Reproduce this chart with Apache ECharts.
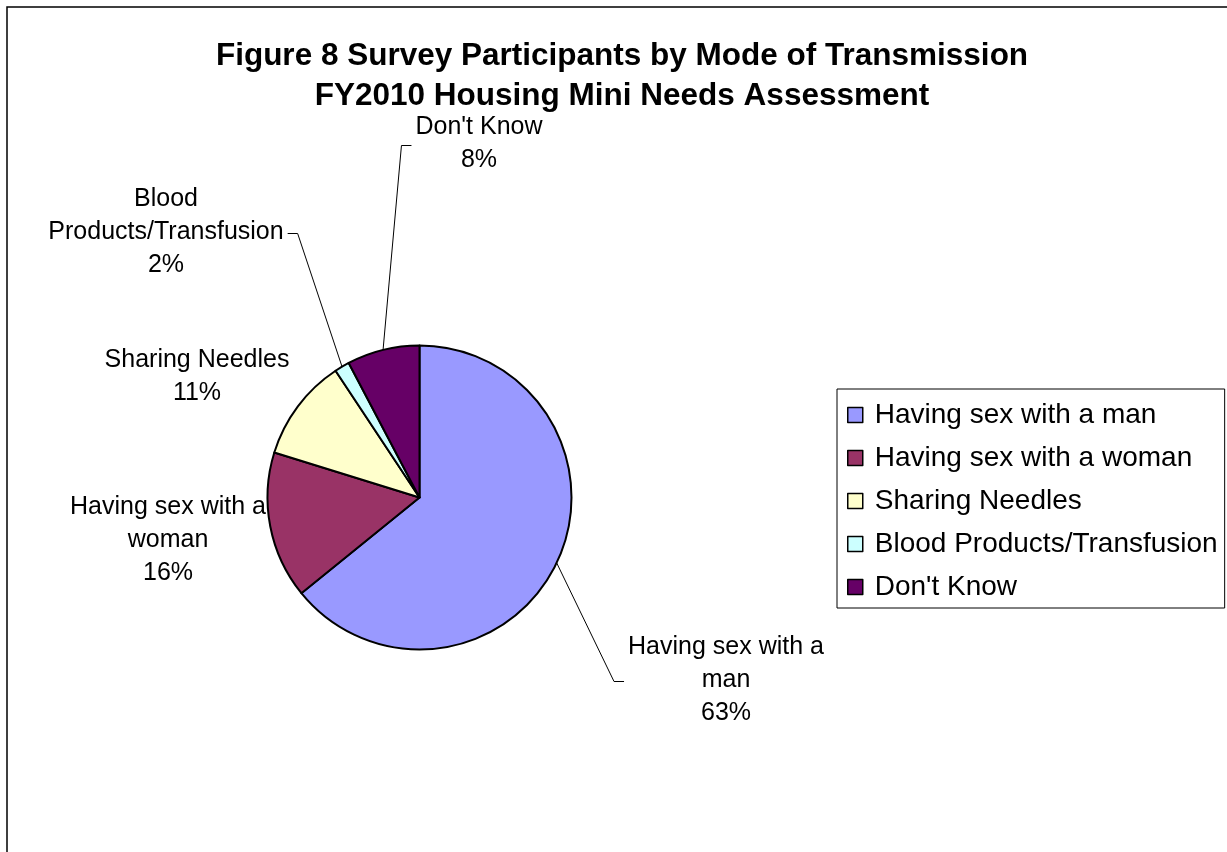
<!DOCTYPE html>
<html>
<head>
<meta charset="utf-8">
<title>Figure 8 Survey Participants by Mode of Transmission</title>
<script src="https://cdn.jsdelivr.net/npm/echarts@6/dist/echarts.min.js"></script>
<style>
html, body { margin: 0; padding: 0; background: #fff; }
#main { width: 1227px; height: 852px; }
</style>
</head>
<body>
<div id="main"></div>
<script>
//类别
var categories = ['Having sex with a man', 'Having sex with a woman', 'Sharing Needles', 'Blood Products/Transfusion', "Don't Know"];
//每块的份额（按图上扇形角度读出）
var shares = [64.1, 15.6, 10.9, 1.6, 7.7];
//图上写的百分比
var pctLabels = ['63%', '16%', '11%', '2%', '8%'];
//图上标签的换行写法
var sliceNames = ['Having sex with a\nman', 'Having sex with a\nwoman', 'Sharing Needles', 'Blood\nProducts/Transfusion', "Don't Know"];

var colors = ['#9999FF', '#993366', '#FFFFCC', '#CCFFFF', '#660066'];
var font = "'Liberation Sans', Arial, sans-serif";

//标签位置：文字块中心，引导线从哪一边进来
var labelPos = [
	{x: 726, y: 680, lead: 'left'},
	{x: 168, y: 540, lead: 'none'},
	{x: 197, y: 377, lead: 'none'},
	{x: 166, y: 232, lead: 'right'},
	{x: 479, y: 144, lead: 'left'}
];

var data = [];
for (var i = 0; i < categories.length; i++) {
	data.push({
		name: categories[i],
		value: shares[i],
		labelLine: {show: labelPos[i].lead != 'none'}
	});
}

var myChart = echarts.init(document.getElementById('main'));
var option = {
	backgroundColor: '#fff',
	color: colors,
	animation: false,
	//外框
	graphic: [{
		type: 'rect',
		z: -10,
		shape: {x: 7, y: 7, width: 1300, height: 900},
		style: {fill: 'none', stroke: '#000', lineWidth: 1.5}
	}],
	title: {
		text: 'Figure 8 Survey Participants by Mode of Transmission\nFY2010 Housing Mini Needs Assessment',
		left: 617,
		top: 31,
		textAlign: 'center',
		textStyle: {fontFamily: font, fontWeight: 'bold', fontSize: 31.5, lineHeight: 40, color: '#000'}
	},
	legend: {
		orient: 'vertical',
		left: 837,
		top: 389,
		padding: [11, 7, 6, 10],
		itemWidth: 15,
		itemHeight: 15,
		itemGap: 13,
		icon: 'rect',
		borderColor: '#000',
		borderWidth: 1,
		itemStyle: {borderColor: '#000', borderWidth: 1.5},
		textStyle: {fontFamily: font, fontSize: 28, lineHeight: 30, color: '#000', padding: [0, 0, 0, 7]},
		data: categories
	},
	series: [{
		type: 'pie',
		center: [419.5, 497.5],
		radius: 152,
		startAngle: 90,
		clockwise: true,
		avoidLabelOverlap: false,
		emphasis: {disabled: true},
		itemStyle: {borderColor: '#000', borderWidth: 2},
		label: {
			show: true,
			position: 'outside',
			formatter: function (p) {
				return sliceNames[p.dataIndex] + '\n' + pctLabels[p.dataIndex];
			},
			fontFamily: font,
			fontSize: 25,
			lineHeight: 33,
			color: '#000',
			align: 'center'
		},
		labelLine: {show: true, lineStyle: {color: '#000', width: 1}},
		labelLayout: function (params) {
			var L = labelPos[params.dataIndex];
			var res = {x: L.x, y: L.y, align: 'center', verticalAlign: 'middle'};
			if (L.lead != 'none' && params.labelLinePoints) {
				var w = params.labelRect.width;
				var ly = L.y + 1.5;
				var endX = L.lead == 'left' ? L.x - w / 2 - 4 : L.x + w / 2 + 4;
				var bendX = L.lead == 'left' ? endX - 10 : endX + 10;
				res.labelLinePoints = [params.labelLinePoints[0], [bendX, ly], [endX, ly]];
			}
			return res;
		},
		data: data
	}]
};
myChart.setOption(option);
</script>
</body>
</html>
